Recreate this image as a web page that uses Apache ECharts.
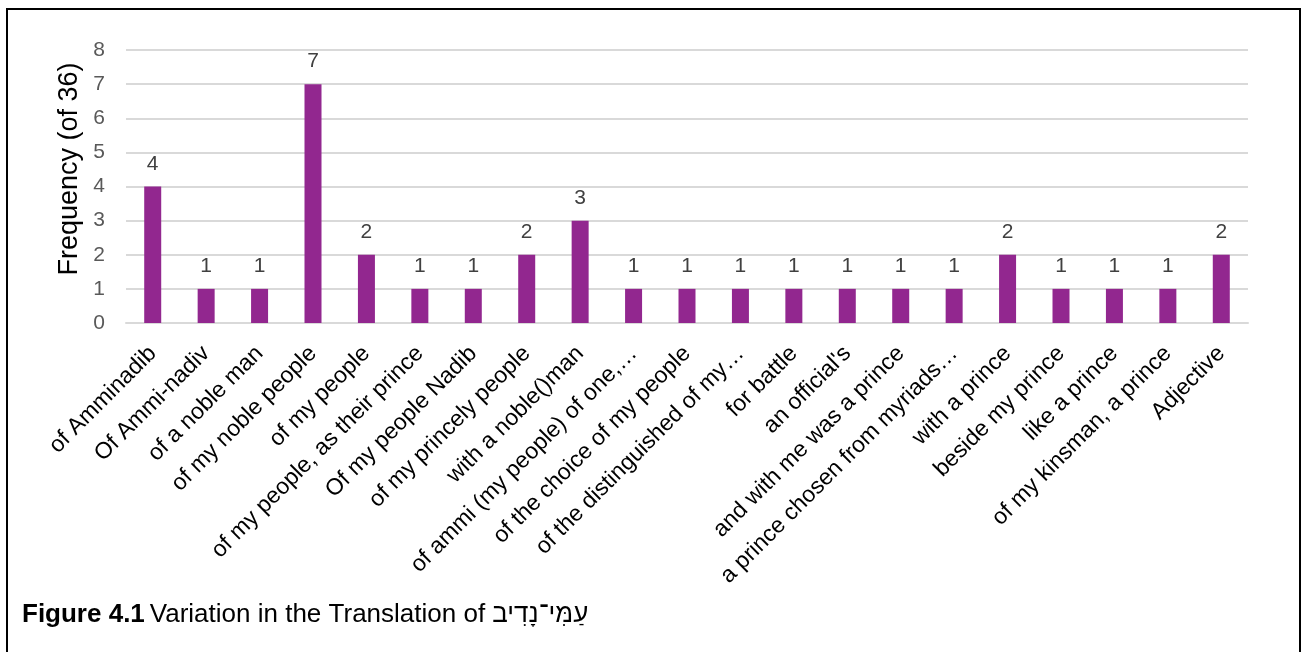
<!DOCTYPE html>
<html>
<head>
<meta charset="utf-8">
<script src="https://cdn.jsdelivr.net/npm/echarts@6/dist/echarts.min.js"></script>
<style>
  html, body { margin: 0; padding: 0; background: #fff; }
  #frame {
    position: absolute; left: 6px; top: 8px; width: 1295px; height: 660px;
    border: 2px solid #000; box-sizing: border-box;
  }
  #chart { position: absolute; left: 0; top: 0; width: 1305px; height: 652px; }
</style>
</head>
<body>
<div id="frame"></div>
<div id="chart"></div>
<script>
// Renderings of the phrase and how often each appears (of 36 versions)
const categories = [
  "of Amminadib",
  "Of Ammi-nadiv",
  "of a noble man",
  "of my noble people",
  "of my people",
  "of my people, as their prince",
  "Of my people Nadib",
  "of my princely people",
  "with a noble()man",
  "of ammi (my people) of one,…",
  "of the choice of my people",
  "of the distinguished of my…",
  "for battle",
  "an official's",
  "and with me was a prince",
  "a prince chosen from myriads…",
  "with a prince",
  "beside my prince",
  "like a prince",
  "of my kinsman, a prince",
  "Adjective"
];
const frequency = [4, 1, 1, 7, 2, 1, 1, 2, 3, 1, 1, 1, 1, 1, 1, 1, 2, 1, 1, 1, 2];
const yTicks = [0, 1, 2, 3, 4, 5, 6, 7, 8];
const yAxisTitle = 'Frequency (of 36)';

const chart = echarts.init(document.getElementById('chart'), null, { renderer: 'canvas' });
const font = '"Liberation Sans", Arial, sans-serif';

chart.setOption({
  animation: false,
  textStyle: { fontFamily: font },
  title: {
    left: 17,
    top: 597,
    text: '{b|Figure 4.1} {n|Variation in the Translation of \u202Bעַמִּי־נָדִיב\u202C}',
    textStyle: {
      fontWeight: 'normal',
      rich: {
        b: { fontFamily: font, fontSize: 26, fontWeight: 'bold', color: '#000' },
        n: { fontFamily: font, fontSize: 26, fontWeight: 'normal', color: '#000' }
      }
    }
  },
  graphic: [{
    type: 'text',
    x: 70,
    y: 169,
    rotation: Math.PI / 2,
    style: {
      text: yAxisTitle,
      fontFamily: font,
      fontSize: 27,
      fill: '#000',
      align: 'center',
      verticalAlign: 'middle'
    }
  }],
  grid: { left: 126, right: 57, top: 50, bottom: 329, containLabel: false },
  xAxis: {
    type: 'category',
    data: categories,
    axisLine: { show: true, lineStyle: { color: '#d9d9d9', width: 2 } },
    axisTick: { show: false },
    axisLabel: {
      rotate: 45,
      interval: 0,
      margin: 27,
      fontSize: 23,
      color: '#000',
      fontFamily: font
    }
  },
  yAxis: {
    type: 'value',
    min: yTicks[0],
    max: yTicks[yTicks.length - 1],
    interval: 1,
    axisLine: { show: false },
    axisTick: { show: false },
    axisLabel: { fontSize: 21, color: '#595959', margin: 21, fontFamily: font },
    splitLine: { lineStyle: { color: '#d9d9d9', width: 2 } }
  },
  series: [{
    type: 'bar',
    data: frequency,
    barWidth: 17,
    itemStyle: { color: '#92278f' },
    label: {
      show: true,
      position: 'top',
      distance: 12,
      fontSize: 21,
      color: '#404040',
      fontFamily: font
    }
  }]
});
</script>
</body>
</html>
